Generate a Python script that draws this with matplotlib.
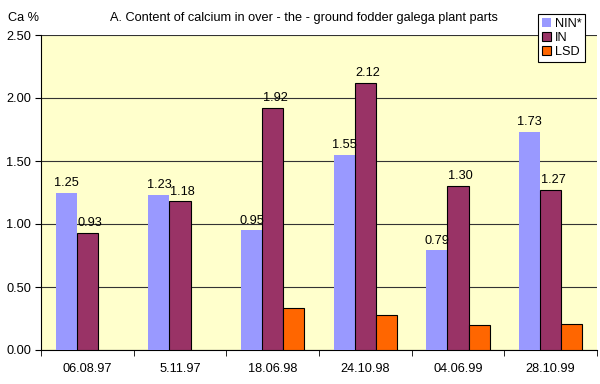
import matplotlib
matplotlib.use("Agg")
import matplotlib.pyplot as plt
import numpy as np

categories = ["06.08.97", "5.11.97", "18.06.98", "24.10.98", "04.06.99", "28.10.99"]
nin = [1.25, 1.23, 0.95, 1.55, 0.79, 1.73]
in_vals = [0.93, 1.18, 1.92, 2.12, 1.30, 1.27]
lsd = [0.0, 0.0, 0.33, 0.28, 0.20, 0.21]
yticks = [0.0, 0.5, 1.0, 1.5, 2.0, 2.5]

plt.rcParams['font.family'] = ['Liberation Sans', 'DejaVu Sans']
FS = 9.2

fig = plt.figure(figsize=(6, 3.84), dpi=100)
ax = fig.add_axes([41/600, 34/384, 556/600, 315/384])
ax.set_facecolor('#FFFFCC')

x = np.arange(len(categories))
w = 1 / 4.4
off = [-w, 0, w]
ax.bar(x + off[0], nin, w, color='#9999FF', label='NIN*', zorder=3)
ax.bar(x + off[1], in_vals, w, color='#993366', edgecolor='black', linewidth=0.8, label='IN', zorder=3)
lsd_x = [xi + off[2] for xi, v in zip(x, lsd) if v > 0]
lsd_v = [v for v in lsd if v > 0]
ax.bar(lsd_x, lsd_v, w, color='#FF6600', edgecolor='black', linewidth=0.8, label='LSD', zorder=3)

for xi, v in zip(x, nin):
    ax.text(xi + off[0], v + 0.03, f"{v:.2f}", ha='center', va='bottom', fontsize=FS)
for xi, v in zip(x, in_vals):
    ax.text(xi + off[1] + 0.03, v + 0.03, f"{v:.2f}", ha='center', va='bottom', fontsize=FS)

ax.set_xlim(-0.5, len(categories) - 0.5)
ax.set_ylim(0, 2.5)
ax.set_yticks(yticks)
ax.set_yticklabels([f"{t:.2f}" for t in yticks], fontsize=FS)
ax.set_xticks(x)
ax.set_xticklabels(categories, fontsize=FS)
ax.set_xticks(np.arange(-0.5, len(categories) + 0.5, 1), minor=True)
ax.tick_params(axis='x', which='major', length=0, pad=9)
ax.tick_params(axis='x', which='minor', length=4, direction='out')
ax.tick_params(axis='y', length=4, direction='out', pad=3)
ax.yaxis.grid(True, color='#333333', linewidth=0.8, zorder=0)
ax.set_axisbelow(True)
for s in ['top', 'right']:
    ax.spines[s].set_visible(False)
ax.spines['left'].set_linewidth(0.8)
ax.spines['bottom'].set_linewidth(0.8)

fig.text(8/600, 1 - 18/384, "Ca %", fontsize=FS, va='center', ha='left')
fig.text(304/600, 1 - 18/384, "A. Content of calcium in over - the - ground fodder galega plant parts",
         fontsize=FS, va='center', ha='center')

leg = fig.legend(loc='upper left', bbox_to_anchor=(538/600, 1 - 14/384), fontsize=FS,
                 frameon=True, fancybox=False, edgecolor='black', framealpha=1,
                 handlelength=0.7, handleheight=0.7, handletextpad=0.3,
                 borderpad=0.3, labelspacing=0.15, borderaxespad=0)
leg.get_frame().set_linewidth(0.8)

fig.savefig("out.png", dpi=100, facecolor='white')
